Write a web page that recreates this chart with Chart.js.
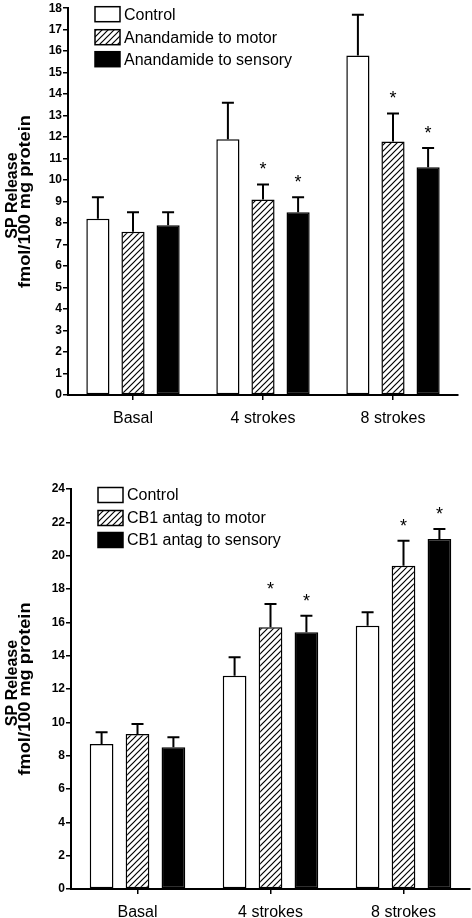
<!DOCTYPE html>
<html>
<head>
<meta charset="utf-8">
<script src="https://cdn.jsdelivr.net/npm/chart.js@4.4.1/dist/chart.umd.min.js"></script>
<style>
  html, body { margin: 0; padding: 0; background: #fff; }
  #wrap { position: relative; width: 472px; height: 918px; }
  canvas { position: absolute; left: 0; }
</style>
</head>
<body>
<div id="wrap">
  <canvas id="anaChart" width="472" height="440" style="top:0"></canvas>
  <canvas id="cbChart" width="472" height="478" style="top:440px"></canvas>
</div>
<script>
const FONT = "'Liberation Sans', Arial, Helvetica, sans-serif";

const groups = ["Basal", "4 strokes", "8 strokes"];

// top panel - anandamide
const anaNames = ["Control", "Anandamide to motor", "Anandamide to sensory"];
const anaControl = [8.2, 11.9, 15.8];
const anaControlSem = [1.0, 1.7, 1.9];
const anaMotor = [7.6, 9.1, 11.8];
const anaMotorSem = [0.9, 0.7, 1.3];
const anaMotorStar = [false, true, true];
const anaSensory = [7.9, 8.5, 10.6];
const anaSensorySem = [0.6, 0.7, 0.9];
const anaSensoryStar = [false, true, true];
const anaYMax = 18;
const anaYStep = 1;

// bottom panel - CB1 antagonist
const cbNames = ["Control", "CB1 antag to motor", "CB1 antag to sensory"];
const cbControl = [8.7, 12.8, 15.8];
const cbControlSem = [0.7, 1.1, 0.8];
const cbMotor = [9.3, 15.7, 19.4];
const cbMotorSem = [0.6, 1.4, 1.5];
const cbMotorStar = [false, true, true];
const cbSensory = [8.5, 15.4, 21.0];
const cbSensorySem = [0.6, 1.0, 0.6];
const cbSensoryStar = [false, true, true];
const cbYMax = 24;
const cbYStep = 2;

const yTitleLines = ["SP Release", "fmol/100 mg protein"];

function makeHatch(ctx) {
  const c = document.createElement("canvas");
  c.width = 6;
  c.height = 6;
  const g = c.getContext("2d");
  g.fillStyle = "#fff";
  g.fillRect(0, 0, 6, 6);
  g.strokeStyle = "#000";
  g.lineWidth = 1.2;
  g.beginPath();
  g.moveTo(-1, 7); g.lineTo(7, -1);
  g.moveTo(-1, 1); g.lineTo(1, -1);
  g.moveTo(5, 7); g.lineTo(7, 5);
  g.stroke();
  return ctx.createPattern(c, "repeat");
}

// error bars (upper only) + significance stars
const errorBars = {
  id: "errorBars",
  afterDatasetsDraw(chart) {
    const ctx = chart.ctx;
    const y = chart.scales.y;
    ctx.save();
    ctx.strokeStyle = "#000";
    ctx.fillStyle = "#000";
    ctx.lineWidth = 2;
    ctx.font = `18px ${FONT}`;
    ctx.textAlign = "center";
    chart.data.datasets.forEach((ds, i) => {
      chart.getDatasetMeta(i).data.forEach((bar, j) => {
        const top = y.getPixelForValue(ds.data[j] + ds.sem[j]);
        ctx.beginPath();
        ctx.moveTo(bar.x, bar.y);
        ctx.lineTo(bar.x, top);
        ctx.moveTo(bar.x - 6, top);
        ctx.lineTo(bar.x + 6, top);
        ctx.stroke();
        if (ds.stars && ds.stars[j]) ctx.fillText("*", bar.x, top - 9);
      });
    });
    ctx.restore();
  }
};

// legend drawn inside the plot, top left
const boxLegend = {
  id: "boxLegend",
  afterDraw(chart) {
    const a = chart.chartArea;
    const ctx = chart.ctx;
    const rows = [6, 29, 51];
    ctx.save();
    ctx.font = `16px ${FONT}`;
    ctx.textBaseline = "middle";
    chart.data.datasets.forEach((ds, i) => {
      const x = a.left + 27;
      const y = a.top + rows[i];
      ctx.fillStyle = ds.backgroundColor;
      ctx.fillRect(x, y - 7.5, 25, 15);
      ctx.strokeStyle = "#000";
      ctx.lineWidth = 1.5;
      ctx.strokeRect(x, y - 7.5, 25, 15);
      ctx.fillStyle = "#000";
      ctx.fillText(ds.label, x + 29, y + 1);
    });
    ctx.restore();
  }
};

function drawVert(ctx, text, x, y, len) {
  ctx.save();
  ctx.translate(x, y);
  ctx.rotate(-Math.PI / 2);
  if (len) ctx.scale(len / ctx.measureText(text).width, 1);
  ctx.fillText(text, 0, 0);
  ctx.restore();
}

const yTitle = {
  id: "yTitle",
  afterDraw(chart) {
    const a = chart.chartArea;
    const mid = (a.top + a.bottom) / 2;
    const ctx = chart.ctx;
    ctx.save();
    ctx.fillStyle = "#000";
    ctx.textAlign = "center";
    ctx.font = `bold 16px ${FONT}`;
    drawVert(ctx, yTitleLines[0], 17, mid - 6, 0);
    drawVert(ctx, yTitleLines[1], 30, mid, 173);
    ctx.restore();
  }
};

function axisStyle() {
  return {
    border: { color: "#000", width: 2 },
    grid: { drawOnChartArea: false, color: "#000", lineWidth: 1.5, tickLength: 5 }
  };
}

function buildChart(id, names, values, sems, stars, yMax, yStep, pad, yWidth, xHeight) {
  const canvas = document.getElementById(id);
  const ctx = canvas.getContext("2d");
  const fills = ["#fff", makeHatch(ctx), "#000"];

  const datasets = names.map((name, i) => ({
    label: name,
    data: values[i],
    sem: sems[i],
    stars: stars[i],
    backgroundColor: fills[i],
    borderColor: "#000",
    borderWidth: 1.5,
    borderSkipped: false,
    categoryPercentage: 0.81,
    barPercentage: 0.66
  }));

  const xAxis = axisStyle();
  xAxis.grid.offset = false;
  const yAxis = axisStyle();

  return new Chart(ctx, {
    type: "bar",
    data: { labels: groups, datasets },
    options: {
      responsive: false,
      animation: false,
      devicePixelRatio: 1,
      layout: { padding: { top: pad.top, right: pad.right, left: 0, bottom: 0 } },
      scales: {
        x: {
          ...xAxis,
          ticks: { color: "#000", font: { family: FONT, size: 16 }, padding: 9 },
          afterFit: (s) => { s.height = xHeight; }
        },
        y: {
          ...yAxis,
          min: 0,
          max: yMax,
          ticks: {
            stepSize: yStep,
            color: "#000",
            padding: 1,
            font: { family: FONT, size: 12, weight: "bold" }
          },
          afterFit: (s) => { s.width = yWidth; }
        }
      },
      plugins: {
        legend: { display: false },
        tooltip: { enabled: false }
      }
    },
    plugins: [errorBars, boxLegend, yTitle]
  });
}

buildChart(
  "anaChart",
  anaNames,
  [anaControl, anaMotor, anaSensory],
  [anaControlSem, anaMotorSem, anaSensorySem],
  [null, anaMotorStar, anaSensoryStar],
  anaYMax, anaYStep,
  { top: 5, right: 14 }, 68, 45
);

buildChart(
  "cbChart",
  cbNames,
  [cbControl, cbMotor, cbSensory],
  [cbControlSem, cbMotorSem, cbSensorySem],
  [null, cbMotorStar, cbSensoryStar],
  cbYMax, cbYStep,
  { top: 49, right: 2 }, 71, 29
);
</script>
</body>
</html>
